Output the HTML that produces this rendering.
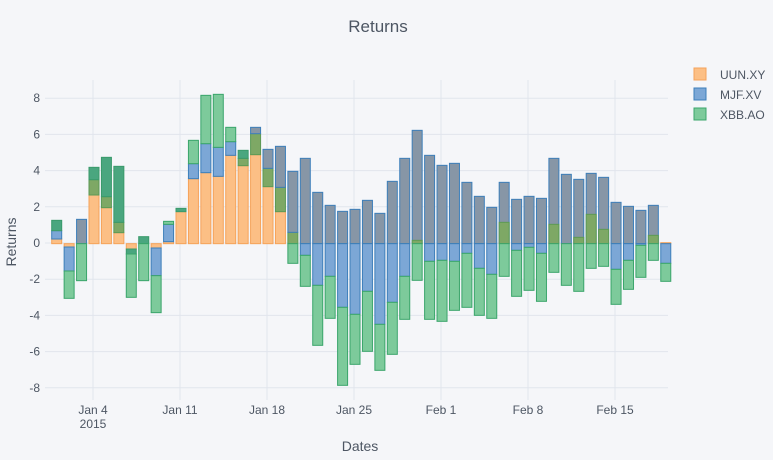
<!DOCTYPE html>
<html><head><meta charset="utf-8"><style>
html,body{margin:0;padding:0;background:#f5f6f9;}
svg{display:block;font-family:"Liberation Sans",sans-serif;}
</style></head><body>
<svg id="s" width="773" height="460" xmlns="http://www.w3.org/2000/svg">
<rect width="773" height="460" fill="#f5f6f9"/>
<g id="grid" stroke="#e1e5ed" stroke-width="1"></g>
<g id="bars"></g>
<text x="378" y="32" text-anchor="middle" font-size="17" fill="#4d5663">Returns</text>
<g font-size="12" fill="#4d5663" text-anchor="end" id="yl"></g>
<g font-size="12" fill="#4d5663" text-anchor="middle">
<text x="93" y="414">Jan 4</text><text x="93" y="428">2015</text>
<text x="180" y="414">Jan 11</text><text x="267" y="414">Jan 18</text>
<text x="354" y="414">Jan 25</text><text x="441" y="414">Feb 1</text>
<text x="528" y="414">Feb 8</text><text x="615" y="414">Feb 15</text>
</g>
<text x="360" y="451" text-anchor="middle" font-size="14" fill="#4d5663">Dates</text>
<text transform="translate(16,242) rotate(-90)" text-anchor="middle" font-size="14" fill="#4d5663">Returns</text>
<g font-size="12" fill="#4d5663">
<rect x="694" y="68" width="12" height="12" fill="#fcbf85" stroke="#f5a35a"/><text x="720" y="79">UUN.XY</text>
<rect x="694" y="88" width="12" height="12" fill="#7ca7d6" stroke="#3d7fba"/><text x="720" y="99">MJF.XV</text>
<rect x="694" y="108" width="12" height="12" fill="#7dca9b" stroke="#3aa56b"/><text x="720" y="119">XBB.AO</text>
</g>
</svg>
<script>
var NS="http://www.w3.org/2000/svg";
function el(p,t,a){var e=document.createElementNS(NS,t);for(var k in a)e.setAttribute(k,a[k]);p.appendChild(e);return e;}
var g=document.getElementById('grid'),yl=document.getElementById('yl');
[93,180,267,354,441,528,615].forEach(function(x){el(g,'line',{x1:x,x2:x,y1:80,y2:400});});
for(var v=-8;v<=8;v+=2){var y=243-v*18.1;el(g,'line',{x1:45,x2:668,y1:y,y2:y,stroke:v==0?'#e1e5ed':'#e1e5ed'});var t=el(yl,'text',{x:40,y:y+4});t.textContent=v;}
var C={O:['#fcbf85','#f5a35a'],B:['#7ca7d6','#3d7fba'],G:['#7dca9b','#3aa56b'],D:['#4aa67f','#3a9a6b'],L:['#7ea865','#5c9a55'],R:['#8796a6','#3d7fba']};
var d=[
"O476,462 B462,437 D437,406","O476,486 B486,558 G558,640","R476,403 G476,587",
"O476,330 L330,284 D284,247","O476,368 L368,335 D335,217","O476,443 L443,412 D412,244",
"O476,492 D492,507 G507,637","D476,455 G476,587","O476,489 B489,572 G572,683",
"O476,470 B470,418 G418,409","O476,380 D380,370","O476,281 B281,236 G236,166",
"O476,263 B263,176 G176,31","O476,274 B274,187 G187,28","O476,211 B211,170 G170,127",
"O476,242 L242,220 D220,196","O476,209 L209,146 R146,127",
"O476,305 L305,250 R250,193","O476,380 L380,307 R307,184","L476,442 R442,259 G476,535",
"R476,220 B476,511 G511,604","R476,322 B476,601 G601,781","R476,361 B476,574 G574,700",
"R476,379 B476,667 G667,901","R476,373 B476,688 G688,838","R476,346 B476,619 G619,799",
"R476,385 B476,718 G718,856","R476,289 B476,652 G652,808","R476,220 B476,574 G574,703",
"R476,136 L476,466 G476,586","R476,211 B476,529 G529,703","R476,241 B476,526 G526,709",
"R476,235 B476,529 G529,676",
"R476,292 B476,505 G505,667","R476,334 B476,550 G550,691","R476,367 B476,568 G568,700",
"R476,292 L476,412 G476,574","R476,343 B476,496 G496,634","R476,334 B476,487 G487,616",
"R476,340 B476,505 G505,649","R476,220 L476,418 G476,562","R476,268 G476,601",
"R476,283 L476,457 G476,619","R476,265 L476,388 G476,550","R476,277 L476,433 G476,544",
"R476,352 B476,553 G553,658","R476,364 B476,526 G526,613","R476,376 B476,481 G481,577",
"R476,361 L476,451 G476,526","O476,473 B476,535 G535,589"];
var b=document.getElementById('bars');
d.forEach(function(s,i){var cx=56.7+i*12.43;
 s.split(' ').forEach(function(seg){var c=C[seg[0]],p=seg.slice(1).split(',');
  var y1=85+p[0]/3,y2=85+p[1]/3;var top=Math.min(y1,y2),h=Math.abs(y2-y1);
  el(b,'rect',{x:cx-5,y:top,width:10,height:h,fill:c[0],stroke:c[1],'stroke-width':1});});});
</script>
</body></html>
